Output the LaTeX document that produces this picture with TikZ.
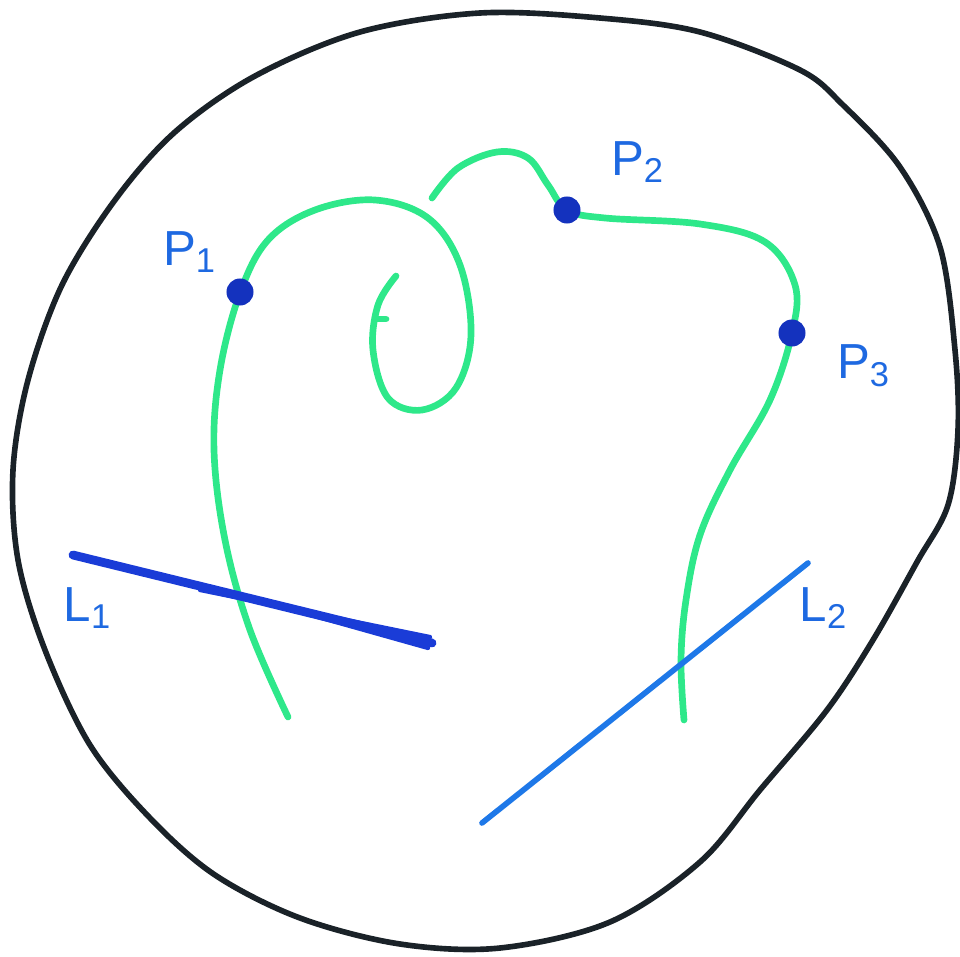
\documentclass[tikz,border=0pt]{standalone}
\usepackage{fontspec}
\setmainfont{Liberation Sans}
\begin{document}
\begin{tikzpicture}[x=0.01cm,y=-0.01cm,
  outline/.style={draw={rgb,255:red,26;green,34;blue,40},line width=1.6pt,line cap=round,line join=round},
  curve/.style={draw={rgb,255:red,46;green,232;blue,138},line width=1.9pt,line cap=round,line join=round},
  lineone/.style={draw={rgb,255:red,26;green,60;blue,215},line width=2.5pt,line cap=round},
  linetwo/.style={draw={rgb,255:red,30;green,120;blue,232},line width=1.6pt,line cap=round},
  pt/.style={circle,fill={rgb,255:red,20;green,50;blue,190},inner sep=0pt,minimum size=0.27cm},
  lbl/.style={text={rgb,255:red,30;green,105;blue,225},font=\fontsize{14}{14}\selectfont,inner sep=1pt}]
\useasboundingbox (0,0) rectangle (960,957);
% outer region
\draw[outline] plot[smooth cycle,tension=0.55] coordinates {
 (480,13) (600,18) (700,32) (800,70) (843,105) (900,167) (940,247) (955,350) (958,430) (948,505) (917,562) (873,640) (827,710) (760,790) (700,862) (610,922) (500,948) (400,944) (300,918) (215,875) (150,818) (90,745) (45,650) (18,560) (13,470) (28,380) (62,285) (115,200) (175,132) (255,76) (360,32)};
% green curve 1 (with spiral)
\draw[curve] plot[smooth,tension=0.6] coordinates {
 (288,717) (250,630) (225,540) (214,450) (220,370) (240,293) (268,240) (315,210) (375,200) (428,218) (460,265) (471,335) (456,388) (422,410) (388,398) (373,350) (378,305) (396,276)};
\draw[curve] (376,319) -- (386,319);
% green curve 2
\draw[curve] plot[smooth,tension=0.6] coordinates {
 (432,198) (458,168) (497,152) (528,158) (548,185) (567,210) (605,218) (700,224) (765,242) (795,285) (792,333) (770,400) (730,470) (700,535) (686,600) (681,660) (684,720)};
% lines
\draw[lineone] (73,555) -- (432,643);
\draw[lineone,line width=1.2pt] (200,590) -- (430,637);
\draw[lineone,line width=1.2pt] (300,612) -- (428,648);
\draw[linetwo] (482,823) -- (808,563);
% points
\node[pt] (p1) at (240,292) {};
\node[pt] (p2) at (567,210) {};
\node[pt] (p3) at (792,333) {};
% labels
\node[lbl] (lp1) at (190,252) {P$_{\mathrm{1}}$};
\node[lbl] (lp2) at (638,162) {P$_{\mathrm{2}}$};
\node[lbl] (lp3) at (864,366) {P$_{\mathrm{3}}$};
\node[lbl] (ll1) at (88,608) {L$_{\mathrm{1}}$};
\node[lbl] (ll2) at (824,608) {L$_{\mathrm{2}}$};
\end{tikzpicture}
\end{document}
